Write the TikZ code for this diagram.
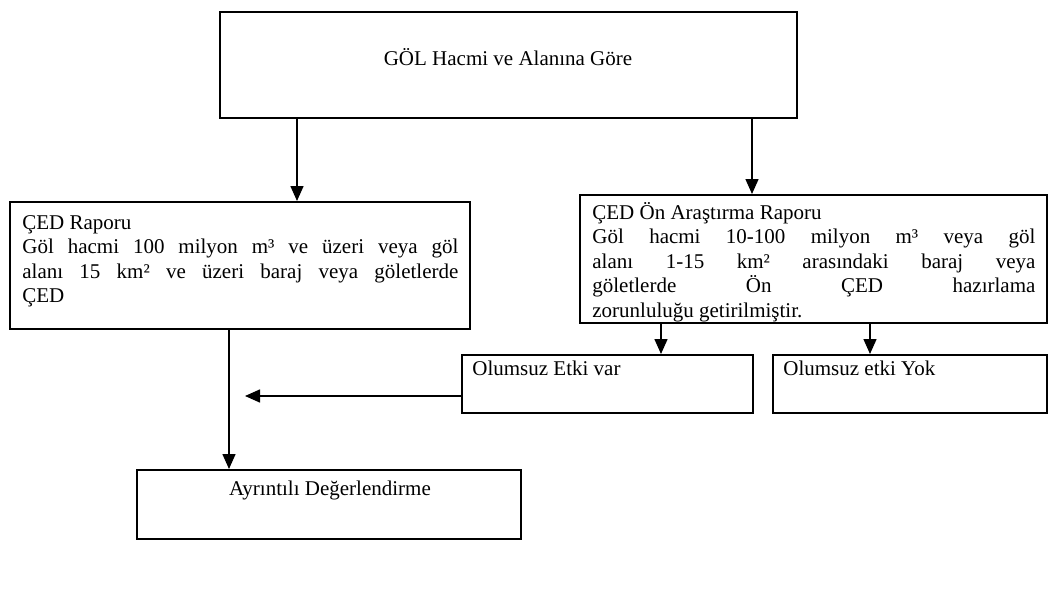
\documentclass[tikz,border=0pt]{standalone}
\usepackage{fontspec}
\setmainfont{Liberation Serif}
\usetikzlibrary{arrows.meta,fit}
\begin{document}
\begin{tikzpicture}[x=0.5pt,y=-0.5pt,
  box/.style={draw,line width=1pt,inner sep=0pt,fit={#1}},
  txt/.style={inner sep=0pt,font=\fontsize{10.5pt}{12.3pt}\selectfont},
  para/.style={txt,anchor=base west,text width=#1,align=justify},
  arr/.style={line width=0.75pt,-{Triangle[length=7.5pt,width=6.5pt]}}]
\useasboundingbox (0,0) rectangle (1061,594);

% boxes
\node[box={(220,12) (797,118)}] (top) {};
\node[box={(10,202) (470,329)}] (ced) {};
\node[box={(580,195) (1047,323)}] (onced) {};
\node[box={(462,355) (753,413)}] (var) {};
\node[box={(773,355) (1047,413)}] (yok) {};
\node[box={(137,470) (521,539)}] (ayr) {};

% texts
\node[txt,anchor=base] (toptext) at (508,65) {GÖL Hacmi ve Alanına Göre};
\node[para=218pt] (cedtext) at (22,229)
  {ÇED Raporu\\Göl hacmi 100 milyon m³ ve üzeri veya göl\linebreak
   alanı 15 km² ve üzeri baraj veya göletlerde\linebreak ÇED};
\node[para=221.5pt] (oncedtext) at (592,219)
  {ÇED Ön Araştırma Raporu\\Göl hacmi 10-100 milyon m³ veya göl\linebreak
   alanı 1-15 km² arasındaki baraj veya\linebreak
   göletlerde Ön ÇED hazırlama\linebreak zorunluluğu getirilmiştir.};
\node[txt,anchor=base west] (vartext) at (472,375) {Olumsuz Etki var};
\node[txt,anchor=base west] (yoktext) at (783,375) {Olumsuz etki Yok};
\node[txt,anchor=base] (ayrtext) at (330,495) {Ayrıntılı Değerlendirme};

% connector columns
\coordinate (lx) at (297,0);
\coordinate (rx) at (752,0);
\coordinate (vx) at (661,0);
\coordinate (yx) at (870,0);
\coordinate (dx) at (229,0);
\coordinate (htip) at (245,396);

% connectors
\draw[arr] (top.south -| lx) -- (ced.north -| lx);
\draw[arr] (top.south -| rx) -- (onced.north -| rx);
\draw[arr] (onced.south -| vx) -- (var.north -| vx);
\draw[arr] (onced.south -| yx) -- (yok.north -| yx);
\draw[arr] (ced.south -| dx) -- (ayr.north -| dx);
\draw[arr] (var.west |- htip) -- (htip);
\end{tikzpicture}
\end{document}
